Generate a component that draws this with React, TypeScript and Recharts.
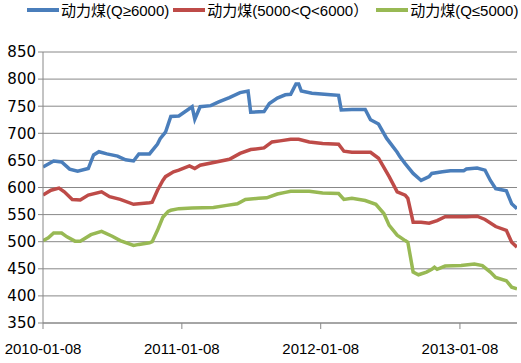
import { LineChart, Line, XAxis, YAxis, CartesianGrid, Legend } from "recharts"

const seriesNames = ["动力煤(Q≥6000)", "动力煤(5000<Q<6000）", "动力煤(Q≤5000)"]
const seriesColors = ["#4a7ebb", "#be4b48", "#98b954"]

// x = weeks counted from 2010-01-08
const blueWeeks = [0, 4, 7, 10, 13, 17, 19, 21, 24, 28, 31, 34, 36, 40, 43, 44, 46, 48, 51, 56, 57, 59, 63, 66, 70, 74, 77, 78, 83, 85, 88, 91, 93, 95, 96, 97, 101, 108, 111, 112, 116, 121, 123, 126, 129, 133, 134, 136, 139, 142, 145, 146, 150, 153, 158, 159, 163, 166, 168, 170, 174, 176, 178]
const blueValues = [638, 649, 647, 634, 630, 635, 660, 666, 662, 658, 651, 649, 662, 662, 680, 690, 702, 731, 732, 749, 726, 749, 751, 758, 766, 775, 778, 739, 740, 755, 765, 771, 772, 791, 791, 778, 774, 771, 770, 743, 744, 744, 725, 717, 691, 665, 657, 644, 626, 613, 620, 626, 629, 631, 631, 634, 636, 632, 613, 598, 594, 570, 561]

const redWeeks = [0, 3, 6, 8, 11, 14, 17, 22, 25, 29, 34, 40, 41, 43, 45, 46, 49, 51, 55, 57, 59, 65, 70, 74, 78, 83, 86, 89, 93, 96, 100, 105, 111, 113, 116, 123, 126, 130, 133, 136, 137, 139, 142, 145, 148, 151, 159, 163, 166, 170, 174, 176, 178]
const redValues = [586, 595, 599, 592, 578, 577, 586, 592, 583, 578, 569, 572, 573, 595, 613, 620, 629, 632, 640, 635, 641, 647, 652, 663, 670, 673, 684, 686, 689, 689, 684, 681, 680, 667, 665, 665, 654, 620, 592, 586, 580, 536, 536, 534, 539, 546, 546, 547, 541, 528, 521, 499, 490]

const greenWeeks = [0, 2, 4, 7, 9, 12, 14, 18, 22, 26, 29, 34, 36, 40, 41, 43, 45, 47, 48, 51, 56, 64, 69, 73, 76, 81, 84, 88, 91, 93, 100, 105, 111, 113, 116, 121, 125, 128, 130, 133, 136, 137, 139, 141, 144, 146, 147, 148, 151, 157, 162, 165, 168, 170, 174, 176, 178]
const greenValues = [502, 507, 516, 516, 509, 501, 501, 513, 519, 510, 502, 493, 495, 498, 500, 521, 545, 556, 558, 561, 562, 563, 567, 570, 578, 580, 581, 588, 591, 593, 593, 590, 589, 578, 580, 576, 569, 552, 530, 512, 502, 499, 444, 439, 444, 449, 453, 449, 455, 456, 459, 456, 444, 434, 428, 416, 413]

const yTicks = [350, 400, 450, 500, 550, 600, 650, 700, 750, 800, 850]
const xTickWeeks = [0, 52.14, 104.29, 156.57]
const xTickLabels = ["2010-01-08", "2011-01-08", "2012-01-08", "2013-01-08"]

const toRows = (weeks: number[], values: number[]) => weeks.map((w, i) => ({ w, v: values[i] }))

const seriesData = [
  toRows(blueWeeks, blueValues),
  toRows(redWeeks, redValues),
  toRows(greenWeeks, greenValues),
]

const gridColor = "#888888"

function LegendRow() {
  return (
    <div style={{ display: "flex", alignItems: "center", fontFamily: "'Liberation Sans', 'Noto Sans CJK SC', sans-serif", fontSize: 15, color: "#000" }}>
      {seriesNames.map((name, i) => (
        <div key={name} style={{ display: "flex", alignItems: "center", marginRight: i === 1 ? 8 : 4 }}>
          <span style={{ display: "inline-block", width: 32, height: 4, background: seriesColors[i], marginRight: 2 }} />
          <span style={{ whiteSpace: "nowrap" }}>{name}</span>
        </div>
      ))}
    </div>
  )
}

export default function App() {
  return (
    <div style={{ width: 521, height: 363, background: "#fff" }}>
      <style>{"body{margin:0}"}</style>
      <LineChart width={521} height={363} margin={{ top: 52, right: 4, left: 0, bottom: 10 }}>
        <CartesianGrid vertical={false} stroke={gridColor} />
        <XAxis
          dataKey="w"
          type="number"
          domain={[0, 178]}
          ticks={xTickWeeks}
          tickFormatter={(v: number) => xTickLabels[xTickWeeks.indexOf(v)] ?? ""}
          height={30}
          tickSize={6}
          tickMargin={14}
          stroke={gridColor}
          tick={{ fill: "#000", fontSize: 15, fontFamily: "'Liberation Sans', sans-serif" }}
          allowDataOverflow
        />
        <YAxis
          domain={[350, 850]}
          ticks={yTicks}
          width={43}
          tickSize={5}
          tickMargin={2}
          stroke={gridColor}
          tick={{ fill: "#000", fontSize: 15, fontFamily: "'DejaVu Sans', sans-serif" }}
        />
        <Legend
          layout="horizontal"
          verticalAlign="middle"
          align="center"
          wrapperStyle={{ top: -1, left: 27, width: 494, height: 20 }}
          content={() => <LegendRow />}
        />
        {seriesData.map((rows, i) => (
          <Line
            key={seriesNames[i]}
            data={rows}
            dataKey="v"
            name={seriesNames[i]}
            type="linear"
            stroke={seriesColors[i]}
            strokeWidth={3.5}
            dot={false}
            isAnimationActive={false}
          />
        ))}
      </LineChart>
    </div>
  )
}
